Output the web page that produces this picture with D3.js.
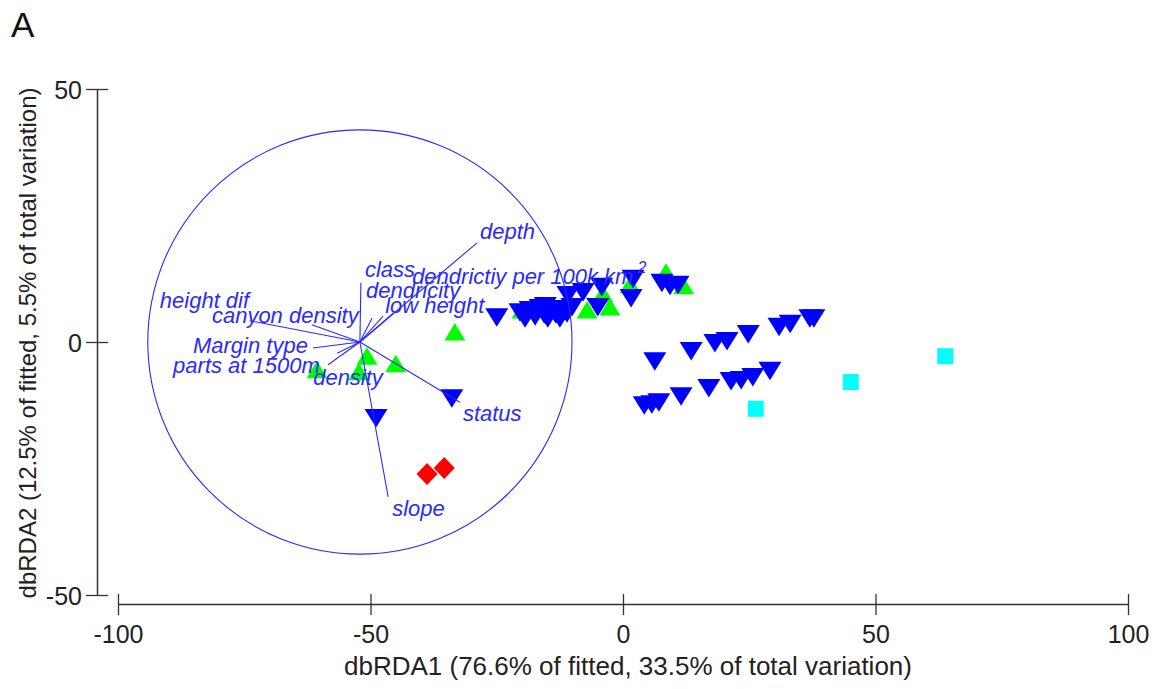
<!DOCTYPE html>
<html>
<head>
<meta charset="utf-8">
<script src="https://cdn.jsdelivr.net/npm/d3@7"></script>
<style>
  html, body { margin: 0; padding: 0; background: #fff; }
  svg { display: block; }
</style>
</head>
<body>
<div id="chart"></div>
<script>
// ---------------- DATA ----------------
const xTicks = [-100, -50, 0, 50, 100];
const yTicks = [-50, 0, 50];
const xTitle = "dbRDA1 (76.6% of fitted, 33.5% of total variation)";
const yTitle = "dbRDA2 (12.5% of fitted, 5.5% of total variation)";
const panelLabel = "A";

// blue down-triangles
const blueDown = [
  [-33.9, -11.1], [-48.9, -15.0], [-25.0, 4.9],
  [-20.4, 5.9], [-19.4, 4.7], [-18.4, 6.3], [-17.4, 5.1], [-16.4, 6.7],
  [-15.6, 5.5], [-14.9, 4.7], [-14.1, 6.5], [-13.3, 5.5], [-12.5, 4.7],
  [-11.9, 6.5], [-11.1, 5.7], [-10.1, 6.9], [-15.4, 7.1],
  [-10.9, 9.3], [-7.9, 9.9], [-4.2, 10.9], [-5.0, 6.9], [1.6, 8.7],
  [2.0, 12.5], [7.7, 11.7], [9.3, 11.1], [10.9, 11.3],
  [6.3, -3.8], [13.5, -1.8], [18.2, -0.2], [20.6, 0.2], [24.8, 1.6],
  [30.9, 3.0], [33.1, 3.6], [37.0, 4.7], [37.8, 4.7],
  [4.2, -12.5], [5.7, -12.3], [7.1, -11.9], [11.5, -10.7], [17.0, -9.1],
  [21.4, -7.7], [23.4, -7.5], [25.7, -6.9], [29.1, -5.7]
];
// green up-triangles
const greenUp = [
  [-60.6, -5.5], [-50.7, -2.8], [-52.3, -5.9], [-45.0, -4.3], [-33.3, 2.0],
  [-20.0, 6.3], [-7.1, 6.3], [-2.6, 6.9], [-4.0, 9.5], [1.4, 11.3],
  [8.5, 13.8], [12.0, 11.1]
];
// red diamonds
const redDiamond = [[-38.8, -26.1], [-35.4, -24.9]];
// cyan squares
const cyanSquare = [[63.8, -2.8], [45.1, -7.9], [26.3, -13.2]];

// vector overlay (circle centre, radius and vector ends relative to centre)
const circleCentre = [-52.1, 0];
const circleRadius = 42.0;
const vectorNames = ["depth", "class", "dendricity", "dendrictiy per 100k km", "low height",
  "height dif", "canyon density", "Margin type", "parts at 1500m", "density", "status", "slope"];
const vectorDX = [23.2, 0.2, 2.4, 4.6, 6.6, -21.8, -9.5, -9.3, -6.3, -4.5, 19.8, 5.6];
const vectorDY = [19.6, 11.7, 4.7, 5.1, 5.7, 4.2, 3.4, -1.2, -4.5, -2.2, -11.9, -30.6];

// label placement (pixel offsets from vector end) - layout only
const labelOffX = [3, 4, -6, 29, -8, -90, -100, -120, -155, -24, 3, 4];
const labelOffY = [-4, -6, -20, -32, 0, -13, -2, 5, 8, 32, 19, 19];

// ---------------- DRAW ----------------
const W = 1161, H = 689;
const svg = d3.select("#chart").append("svg").attr("width", W).attr("height", H);
const font = "'Liberation Sans', Arial, sans-serif";
const axisCol = "#333";
const vecCol = "#2a2aff";

const x = d3.scaleLinear().domain([-100, 100]).range([118, 1128]);
const y = d3.scaleLinear().domain([-50, 50]).range([595, 89]);
const fmt = d => String(d);

// axes
const gx = svg.append("g").attr("transform", "translate(0,604)")
  .call(d3.axisBottom(x).tickValues(xTicks).tickSizeOuter(0).tickFormat(fmt));
gx.select(".domain").attr("stroke", axisCol).attr("stroke-width", 1.5);
gx.selectAll(".tick line").attr("y1", -10).attr("y2", 11).attr("stroke", axisCol).attr("stroke-width", 1.3);
gx.selectAll(".tick text").attr("y", 39).attr("dy", 0)
  .attr("font-family", font).attr("font-size", 25).attr("fill", "#222");

const gy = svg.append("g").attr("transform", "translate(97,0)")
  .call(d3.axisLeft(y).tickValues(yTicks).tickSizeOuter(0).tickFormat(fmt));
gy.select(".domain").attr("stroke", axisCol).attr("stroke-width", 1.5);
gy.selectAll(".tick line").attr("x1", -11).attr("x2", 11).attr("stroke", axisCol).attr("stroke-width", 1.3);
gy.selectAll(".tick text").attr("x", -15).attr("dy", "0.36em")
  .attr("font-family", font).attr("font-size", 25).attr("fill", "#222");

svg.append("text").attr("x", 628).attr("y", 675).attr("text-anchor", "middle")
  .attr("font-family", font).attr("font-size", 26).attr("fill", "#222").text(xTitle);
svg.append("text").attr("transform", "translate(36,343) rotate(-90)").attr("text-anchor", "middle")
  .attr("font-family", font).attr("font-size", 24).attr("fill", "#222").text(yTitle);
svg.append("text").attr("x", 11).attr("y", 37)
  .attr("font-family", font).attr("font-size", 35).attr("fill", "#111").text(panelLabel);

// markers
const pts = svg.append("g");
const triDown = "M-11.5,-9L11.5,-9L0,9.5Z";
const triUp = "M-10.5,8.5L10.5,8.5L0,-9Z";
const diamond = "M0,-11L10.5,0L0,11L-10.5,0Z";
const square = "M-8,-8L8,-8L8,8L-8,8Z";

function drawSet(data, path, color) {
  pts.selectAll(null).data(data).enter().append("path")
    .attr("d", path)
    .attr("transform", d => `translate(${x(d[0])},${y(d[1])})`)
    .attr("fill", color);
}
drawSet(greenUp, triUp, "#00ff00");
drawSet(blueDown, triDown, "#0000ff");
drawSet(redDiamond, diamond, "#ff0000");
drawSet(cyanSquare, square, "#00ffff");

// vector overlay
const ov = svg.append("g");
const cx = x(circleCentre[0]), cy = y(circleCentre[1]);
const rPx = x(circleCentre[0] + circleRadius) - cx;
ov.append("circle").attr("cx", cx).attr("cy", cy).attr("r", rPx)
  .attr("fill", "none").attr("stroke", vecCol).attr("stroke-width", 1.1);

const vecs = vectorNames.map((n, i) => ({
  name: n,
  ex: x(circleCentre[0] + vectorDX[i]),
  ey: y(circleCentre[1] + vectorDY[i]),
  lx: labelOffX[i], ly: labelOffY[i]
}));
ov.selectAll("line.vec").data(vecs).enter().append("line")
  .attr("x1", cx).attr("y1", cy).attr("x2", d => d.ex).attr("y2", d => d.ey)
  .attr("stroke", vecCol).attr("stroke-width", 1.1);

const lab = ov.selectAll("text.vlab").data(vecs).enter().append("text")
  .attr("x", d => d.ex + d.lx).attr("y", d => d.ey + d.ly)
  .attr("font-family", font).attr("font-size", 22).attr("font-style", "italic")
  .attr("fill", vecCol)
  .text(d => d.name);
lab.filter(d => d.name === "dendrictiy per 100k km").append("tspan")
  .attr("dx", 4).attr("dy", -11).attr("font-size", 16).text("2");
</script>
</body>
</html>
